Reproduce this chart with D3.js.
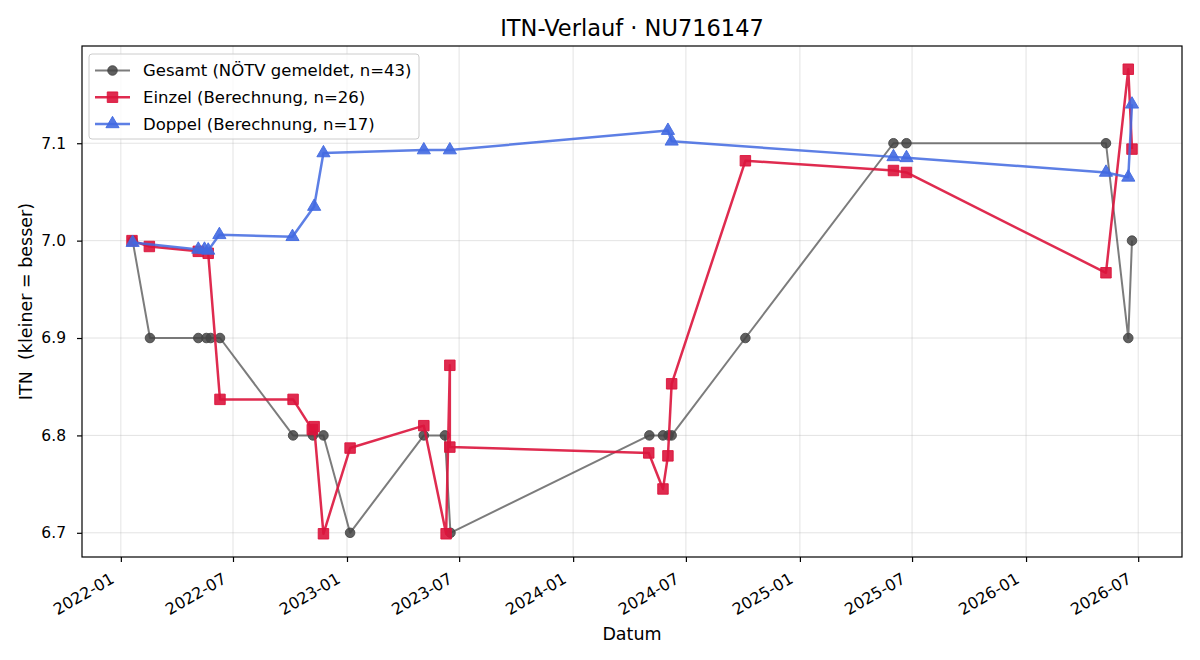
<!DOCTYPE html>
<html lang="de">
<head>
<meta charset="UTF-8"/>
<title>ITN-Verlauf</title>
<script src="https://d3js.org/d3.v7.min.js"></script>
<style>
  body { margin: 0; background: #fff; }
  svg text { font-family: "DejaVu Sans", sans-serif; }
</style>
</head>
<body>
<script>
    // Gesamt (NÖTV gemeldet)
    var gesamtDates = ["2022-01-20","2022-02-17","2022-05-06","2022-05-19","2022-05-26","2022-06-10",
        "2022-10-06","2022-11-07","2022-11-24","2023-01-06","2023-05-05","2023-06-08","2023-06-17",
        "2024-05-03","2024-05-25","2024-06-03","2024-06-08","2024-10-05","2025-06-01","2025-06-22",
        "2026-05-10","2026-06-15","2026-06-21"];
    var gesamtValues = [7.0, 6.9, 6.9, 6.9, 6.9, 6.9,
        6.8, 6.8, 6.8, 6.7, 6.8, 6.8, 6.7,
        6.8, 6.8, 6.8, 6.8, 6.9, 7.1, 7.1,
        7.1, 6.9, 7.0];

    // Einzel (Berechnung)
    var einzelDates = ["2022-01-19","2022-02-16","2022-05-06","2022-05-22","2022-06-10","2022-10-06",
        "2022-11-06","2022-11-09","2022-11-24","2023-01-06","2023-05-05","2023-06-10","2023-06-16",
        "2023-06-16","2024-05-02","2024-05-25","2024-06-02","2024-06-08","2024-10-05","2025-06-01",
        "2025-06-22","2026-05-10","2026-06-15","2026-06-21"];
    var einzelValues = [7.000, 6.994, 6.989, 6.987, 6.837, 6.837,
        6.806, 6.809, 6.699, 6.787, 6.810, 6.699, 6.872,
        6.788, 6.782, 6.745, 6.779, 6.853, 7.082, 7.072,
        7.070, 6.967, 7.176, 7.094];

    // Doppel (Berechnung)
    var doppelDates = ["2022-01-20","2022-05-06","2022-05-16","2022-05-22","2022-06-09","2022-10-05",
        "2022-11-09","2022-11-24","2023-05-05","2023-06-16","2024-06-02","2024-06-08","2025-06-01",
        "2025-06-22","2026-05-10","2026-06-15","2026-06-21"];
    var doppelValues = [6.998, 6.991, 6.991, 6.990, 7.006, 7.004,
        7.035, 7.090, 7.093, 7.093, 7.113, 7.102, 7.086,
        7.085, 7.070, 7.065, 7.140];

    var yTicks = [6.7, 6.8, 6.9, 7.0, 7.1];
    var legendLabels = ["Gesamt (NÖTV gemeldet, n=43)", "Einzel (Berechnung, n=26)", "Doppel (Berechnung, n=17)"];

    var w = 1200, h = 660;
    var mLeft = 82, mRight = 1182, mTop = 46, mBottom = 557;

    var parse = d3.timeParse("%Y-%m-%d");
    function pairs(dates, vals) {
        return dates.map(function(d, i) { return [parse(d), vals[i]]; });
    }
    var series = [
        { data: pairs(gesamtDates, gesamtValues), color: "#444444", lineOp: 0.7, markOp: 0.85, lw: 2, shape: "circle" },
        { data: pairs(einzelDates, einzelValues), color: "#dc143c", lineOp: 0.9, markOp: 0.9, lw: 2.5, shape: "square" },
        { data: pairs(doppelDates, doppelValues), color: "#4169e1", lineOp: 0.85, markOp: 0.9, lw: 2.5, shape: "triangle" }
    ];

    var all = series[0].data.concat(series[1].data, series[2].data);
    var xExt = d3.extent(all, function(d) { return d[0]; });
    var yExt = d3.extent(all, function(d) { return d[1]; });
    var xPad = (xExt[1] - xExt[0]) * 0.05;
    var yPad = (yExt[1] - yExt[0]) * 0.05;

    var xScale = d3.scaleTime()
        .domain([new Date(+xExt[0] - xPad), new Date(+xExt[1] + xPad)])
        .range([mLeft, mRight]);
    var yScale = d3.scaleLinear()
        .domain([yExt[0] - yPad, yExt[1] + yPad])
        .range([mBottom, mTop]);

    var svg = d3.select("body").append("svg")
        .attr("width", w)
        .attr("height", h);

    var xTicks = d3.timeMonth.every(6).range(xScale.domain()[0], xScale.domain()[1]);

    // grid
    svg.append("g").selectAll("line")
        .data(xTicks).enter().append("line")
        .attr("x1", function(d) { return xScale(d); })
        .attr("x2", function(d) { return xScale(d); })
        .attr("y1", mTop).attr("y2", mBottom)
        .attr("stroke", "#b0b0b0").attr("stroke-opacity", 0.35).attr("stroke-width", 1);
    svg.append("g").selectAll("line")
        .data(yTicks).enter().append("line")
        .attr("x1", mLeft).attr("x2", mRight)
        .attr("y1", function(d) { return yScale(d); })
        .attr("y2", function(d) { return yScale(d); })
        .attr("stroke", "#b0b0b0").attr("stroke-opacity", 0.35).attr("stroke-width", 1);

    // axes
    var xAxis = d3.axisBottom(xScale)
        .tickValues(xTicks)
        .tickFormat(d3.timeFormat("%Y-%m"))
        .tickSize(5).tickSizeOuter(0);
    var gx = svg.append("g")
        .attr("transform", "translate(0," + mBottom + ")")
        .call(xAxis);
    gx.select(".domain").remove();
    gx.selectAll("line").attr("stroke", "#000").attr("stroke-width", 1.2);
    gx.selectAll("text")
        .attr("font-size", "16px")
        .attr("fill", "#000")
        .attr("text-anchor", "end")
        .attr("dy", null)
        .attr("x", 0).attr("y", 0)
        .attr("transform", "translate(-6,25) rotate(-30)");

    var yAxis = d3.axisLeft(yScale)
        .tickValues(yTicks)
        .tickFormat(d3.format(".1f"))
        .tickSize(5).tickSizeOuter(0);
    var gy = svg.append("g")
        .attr("transform", "translate(" + mLeft + ",0)")
        .call(yAxis);
    gy.select(".domain").remove();
    gy.selectAll("line").attr("stroke", "#000").attr("stroke-width", 1.2);
    gy.selectAll("text").attr("font-size", "15.5px").attr("fill", "#000").attr("x", -16);

    // series
    var line = d3.line()
        .x(function(d) { return xScale(d[0]); })
        .y(function(d) { return yScale(d[1]); });

    var symbols = { circle: d3.symbolCircle, square: d3.symbolSquare, triangle: d3.symbolTriangle };
    var sizes = { circle: 72, square: 110, triangle: 75 };

    series.forEach(function(s) {
        var g = svg.append("g");
        g.append("path")
            .datum(s.data)
            .attr("d", line)
            .attr("fill", "none")
            .attr("stroke", s.color)
            .attr("stroke-opacity", s.lineOp)
            .attr("stroke-width", s.lw)
            .attr("stroke-linejoin", "round");
        g.selectAll("path.mark")
            .data(s.data).enter().append("path")
            .attr("class", "mark")
            .attr("d", d3.symbol().type(symbols[s.shape]).size(sizes[s.shape]))
            .attr("transform", function(d) {
                return "translate(" + xScale(d[0]) + "," + yScale(d[1]) + ")";
            })
            .attr("fill", s.color)
            .attr("fill-opacity", s.markOp)
            .attr("stroke", s.color)
            .attr("stroke-opacity", s.markOp)
            .attr("stroke-width", 1);
    });

    // frame
    svg.append("rect")
        .attr("x", mLeft).attr("y", mTop)
        .attr("width", mRight - mLeft).attr("height", mBottom - mTop)
        .attr("fill", "none").attr("stroke", "#000").attr("stroke-width", 1.2);

    // legend
    var lg = svg.append("g").attr("transform", "translate(89,54)");
    lg.append("rect")
        .attr("width", 330).attr("height", 85)
        .attr("rx", 3)
        .attr("fill", "#fff").attr("fill-opacity", 0.8)
        .attr("stroke", "#cccccc");
    series.forEach(function(s, i) {
        var yy = 16.5 + i * 26.7;
        lg.append("line")
            .attr("x1", 6).attr("x2", 41)
            .attr("y1", yy).attr("y2", yy)
            .attr("stroke", s.color).attr("stroke-opacity", s.lineOp)
            .attr("stroke-width", s.lw);
        lg.append("path")
            .attr("d", d3.symbol().type(symbols[s.shape]).size(sizes[s.shape]))
            .attr("transform", "translate(23.5," + yy + ")")
            .attr("fill", s.color).attr("fill-opacity", s.markOp)
            .attr("stroke", s.color).attr("stroke-opacity", s.markOp);
        lg.append("text")
            .attr("x", 54).attr("y", yy)
            .attr("dy", "0.36em")
            .attr("font-size", "16.5px")
            .text(legendLabels[i]);
    });

    // titles
    svg.append("text")
        .attr("x", (mLeft + mRight) / 2).attr("y", 36)
        .attr("text-anchor", "middle")
        .attr("font-size", "22.5px")
        .text("ITN-Verlauf · NU716147");

    svg.append("text")
        .attr("x", (mLeft + mRight) / 2).attr("y", 640)
        .attr("text-anchor", "middle")
        .attr("font-size", "17.5px")
        .text("Datum");

    svg.append("text")
        .attr("transform", "rotate(-90)")
        .attr("x", -(mTop + mBottom) / 2).attr("y", 32)
        .attr("text-anchor", "middle")
        .attr("font-size", "17.5px")
        .style("white-space", "pre")
        .text("ITN  (kleiner = besser)");
</script>
</body>
</html>
